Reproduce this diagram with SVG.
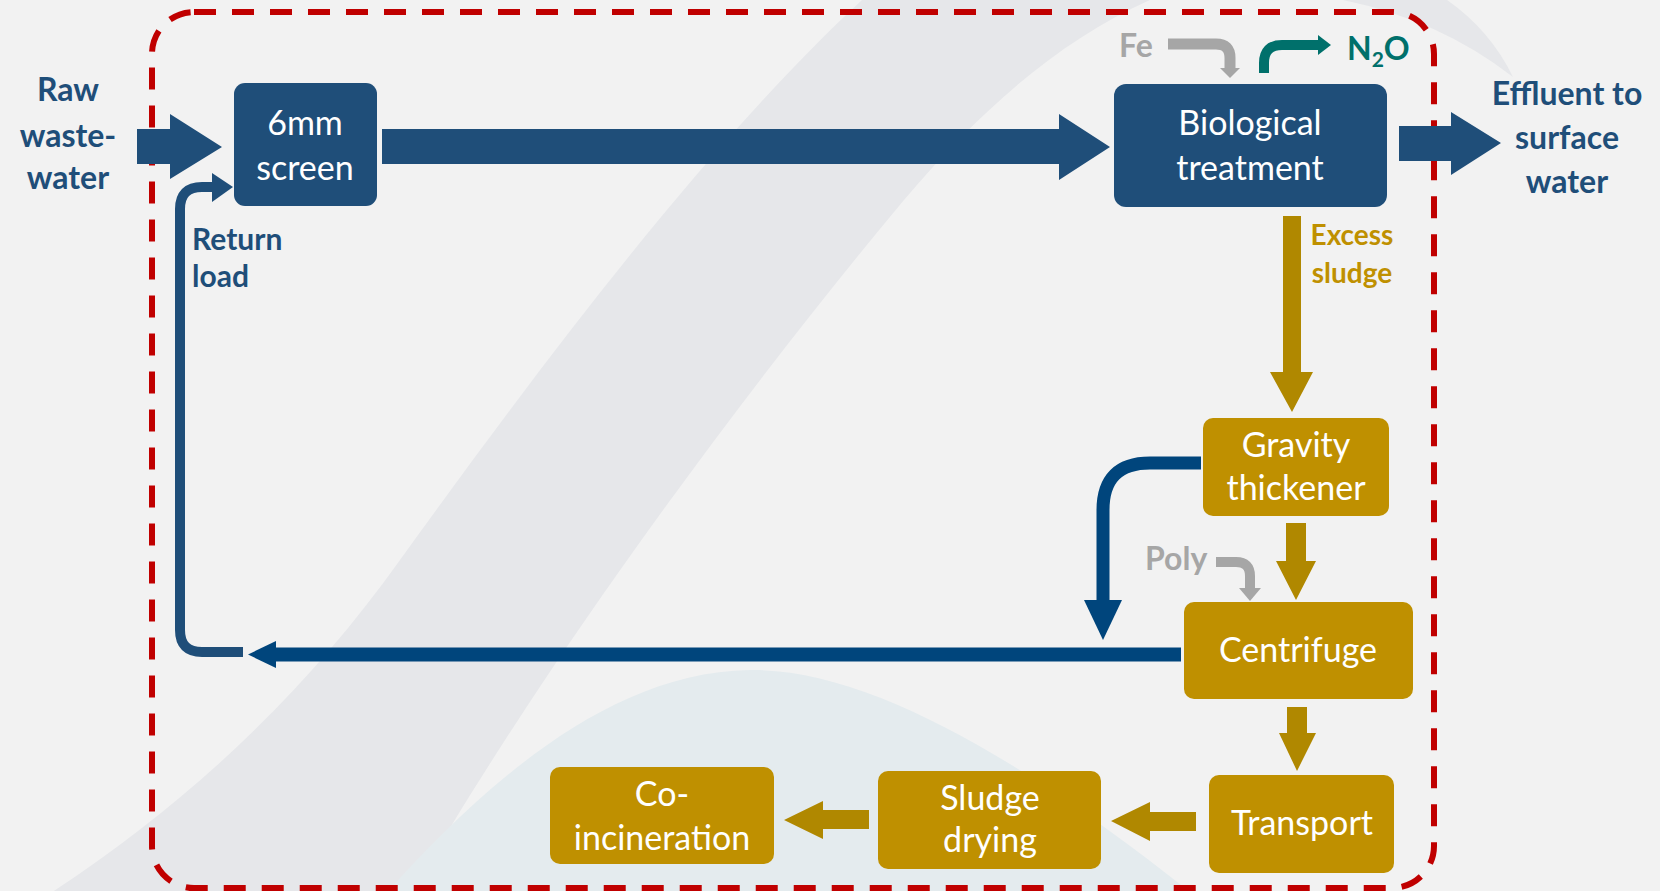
<svg xmlns="http://www.w3.org/2000/svg" width="1660" height="891" viewBox="0 0 1660 891">
<defs>
<style>
.bg{fill:#F2F2F2}
.band{fill:#E6E7EA}
.hill{fill:#E4EBEE}
.border{fill:none;stroke:#C00000;stroke-width:6;stroke-dasharray:22 16}
.bbox{fill:#1F4E79}
.gbox{fill:#BF9000}
.bt{font-family:Lato,"Open Sans",sans-serif;font-size:34px;fill:#FFFFFF;text-anchor:middle}
.lbl{font-family:Lato,"Open Sans",sans-serif;font-weight:bold;font-size:32px;text-anchor:middle}
.sm{font-size:28px}
.md{font-size:30px}
.st{text-anchor:start}
.blue{fill:#1F4E79}
.dblue{fill:#00457C}
.gold{fill:#B08800}
.gray{fill:#A6A6A6}
.teal{fill:#00706B}
</style>
</defs>
<rect class="bg" x="0" y="0" width="1660" height="891"/>
<g id="background">
<path class="band" d="M 862 0 C 700 150 530 380 400 560 C 300 700 180 810 40 900 L 408 900 C 520 700 720 420 904 200 C 980 110 1060 40 1150 0 Z"/>
<path class="hill" d="M 380 900 C 470 800 600 672 750 670 C 880 668 1050 780 1200 900 Z"/>
<path class="band" d="M 1343 0 L 1447 0 Q 1490 30 1513 77 Q 1440 20 1343 0 Z"/>
</g>
<rect id="boundary" class="border" x="152" y="12" width="1282" height="876" rx="42" ry="42"/>
<g id="connectors">
<polygon class="blue" points="137,129 170,129 170,114 222,147 170,179 170,164 137,164"/>
<polygon class="blue" points="382,129 1059,129 1059,114 1110,147 1059,180 1059,164 382,164"/>
<polygon class="blue" points="1399,126 1451,126 1451,112 1501,143 1451,175 1451,161 1399,161"/>
<polygon class="gold" points="1283,216 1301,216 1301,372 1313,372 1292,412 1270,372 1283,372"/>
<polygon class="gold" points="1286,523 1306,523 1306,561 1316,561 1296,600 1276,561 1286,561"/>
<polygon class="gold" points="1287,707 1307,707 1307,733 1316,733 1297,771 1279,733 1287,733"/>
<polygon class="gold" points="1196,812 1196,831 1150,831 1150,841 1111,821 1150,802 1150,812"/>
<polygon class="gold" points="869,810 869,829 823,829 823,839 784,820 823,801 823,810"/>
<path d="M 1201 463 H 1150 Q 1103 463 1103 510 V 602" fill="none" stroke="#00457C" stroke-width="13"/>
<polygon class="dblue" points="1084,600 1122,600 1103,640"/>
<path d="M 1181 654.5 H 274" fill="none" stroke="#00457C" stroke-width="14"/>
<polygon class="dblue" points="276,641 276,668 248,654.5"/>
<path d="M 243 652 H 202 Q 180 652 180 630 V 209 Q 180 187 202 187 H 214" fill="none" stroke="#1F4E79" stroke-width="10"/>
<polygon class="blue" points="212,173 233,187 212,202"/>
<path d="M 1168 44 H 1216 Q 1230 44 1230 58 V 69" fill="none" stroke="#A6A6A6" stroke-width="11"/>
<polygon class="gray" points="1220,68 1240,68 1230,78"/>
<path d="M 1216 562 H 1236 Q 1250 562 1250 576 V 589" fill="none" stroke="#A6A6A6" stroke-width="10"/>
<polygon class="gray" points="1239,588 1261,588 1250,601"/>
<path d="M 1264 73 V 63 Q 1264 45 1282 45 H 1320" fill="none" stroke="#00706B" stroke-width="10"/>
<polygon class="teal" points="1318,35 1331,45 1318,55"/>
</g>
<g id="node-screen">
<rect class="bbox" x="234" y="83" width="143" height="123" rx="11"/>
<text class="bt" x="305" y="135">6mm</text>
<text class="bt" x="305" y="180">screen</text>
</g>
<g id="node-bio">
<rect class="bbox" x="1114" y="84" width="273" height="123" rx="12"/>
<text class="bt" x="1250" y="135">Biological</text>
<text class="bt" x="1250" y="180">treatment</text>
</g>
<g id="node-gravity">
<rect class="gbox" x="1203" y="418" width="186" height="98" rx="10"/>
<text class="bt" x="1296" y="457">Gravity</text>
<text class="bt" x="1296" y="500">thickener</text>
</g>
<g id="node-centrifuge">
<rect class="gbox" x="1184" y="602" width="229" height="97" rx="10"/>
<text class="bt" x="1298" y="662">Centrifuge</text>
</g>
<g id="node-transport">
<rect class="gbox" x="1209" y="775" width="185" height="98" rx="10"/>
<text class="bt" x="1302" y="835">Transport</text>
</g>
<g id="node-drying">
<rect class="gbox" x="878" y="771" width="223" height="98" rx="10"/>
<text class="bt" x="990" y="810">Sludge</text>
<text class="bt" x="990" y="852">drying</text>
</g>
<g id="node-coincineration">
<rect class="gbox" x="550" y="767" width="224" height="97" rx="10"/>
<text class="bt" x="662" y="806">Co-</text>
<text class="bt" x="662" y="850">incineration</text>
</g>
<g id="labels">
<text class="lbl" x="68" y="101" fill="#1F4E79">Raw</text>
<text class="lbl" x="68" y="147" fill="#1F4E79">waste-</text>
<text class="lbl" x="68" y="189" fill="#1F4E79">water</text>
<text class="lbl" x="1567" y="105" fill="#1F4E79">Effluent to</text>
<text class="lbl" x="1567" y="149" fill="#1F4E79">surface</text>
<text class="lbl" x="1567" y="193" fill="#1F4E79">water</text>
<text class="lbl md st" x="192" y="250" fill="#1F4E79">Return</text>
<text class="lbl md st" x="192" y="287" fill="#1F4E79">load</text>
<text class="lbl sm" x="1352" y="245" fill="#BF9000">Excess</text>
<text class="lbl sm" x="1352" y="283" fill="#BF9000">sludge</text>
<text class="lbl st" x="1119" y="57" fill="#A6A6A6">Fe</text>
<text class="lbl st" x="1145" y="570" fill="#A6A6A6">Poly</text>
<text class="lbl st" x="1347" y="60" fill="#00706B">N<tspan font-size="21" dy="7">2</tspan><tspan dy="-7">O</tspan></text>
</g>
</svg>
